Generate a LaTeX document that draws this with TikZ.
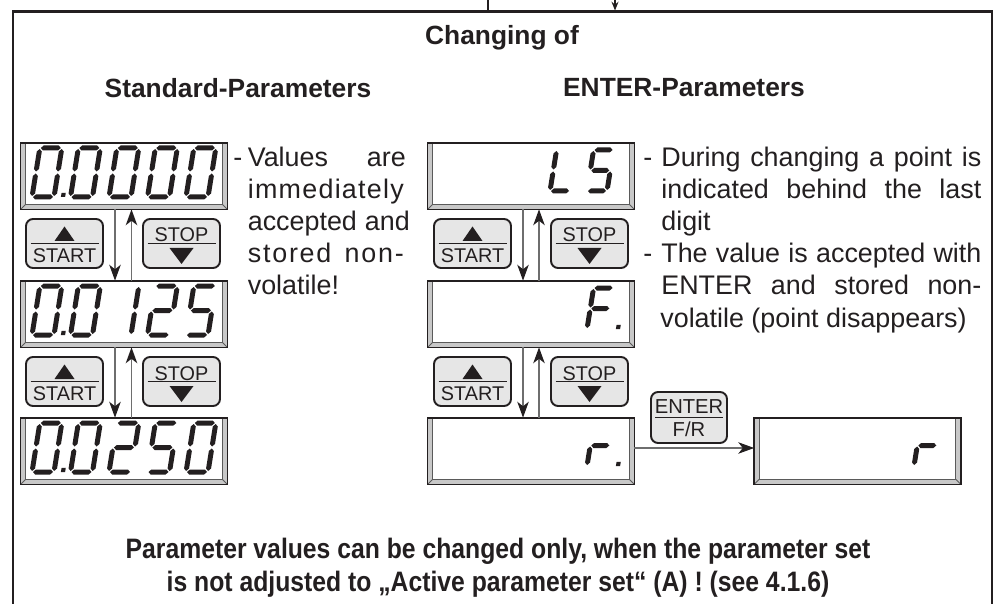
\documentclass[tikz,border=0pt]{standalone}
\usepackage{fontspec}
\setmainfont{Liberation Sans}
\usepackage{graphicx}
\usetikzlibrary{arrows.meta,calc}
\newlength\px \setlength\px{0.02cm}
\definecolor{ink}{HTML}{231F20}
\definecolor{bevel}{HTML}{C8C8C8}
\definecolor{bevline}{HTML}{5A5A5A}
\definecolor{btnfill}{HTML}{E6E6E6}
\definecolor{connc}{HTML}{6E6E6E}
\def\dgG{1.0}\def\dgT{2.5}\def\dgW{20}
\newcommand\hseg[3]{\fill[ink] ({#1+\dgG},{#3}) -- ({#1+\dgG+\dgT},{#3-\dgT}) -- ({#2-\dgG-\dgT},{#3-\dgT}) -- ({#2-\dgG},{#3}) -- ({#2-\dgG-\dgT},{#3+\dgT}) -- ({#1+\dgG+\dgT},{#3+\dgT}) -- cycle;}
\newcommand\vseg[3]{\fill[ink] ({#1},{#2+\dgG}) -- ({#1+\dgT},{#2+\dgG+\dgT}) -- ({#1+\dgT},{#3-\dgG-\dgT}) -- ({#1},{#3-\dgG}) -- ({#1-\dgT},{#3-\dgG-\dgT}) -- ({#1-\dgT},{#2+\dgG+\dgT}) -- cycle;}
\newcommand\segA{\hseg{0}{\dgW}{-\dgH}}
\newcommand\segB{\vseg{\dgW}{-\dgH}{-\dgH/2}}
\newcommand\segC{\vseg{\dgW}{-\dgH/2}{0}}
\newcommand\segD{\hseg{0}{\dgW}{0}}
\newcommand\segE{\vseg{0}{-\dgH/2}{0}}
\newcommand\segF{\vseg{0}{-\dgH}{-\dgH/2}}
\newcommand\segG{\hseg{0}{\dgW}{-\dgH/2}}
\newcommand\segP{\fill[ink] (28.9,-4.2) rectangle (33.1,0);}
\newcommand\dZero{\segA\segB\segC\segD\segE\segF}
\newcommand\dOne{\segB\segC}
\newcommand\dTwo{\segA\segB\segG\segE\segD}
\newcommand\dFive{\segA\segF\segG\segC\segD}
\newcommand\dLL{\segF\segE\segD}
\newcommand\dFF{\segA\segF\segG\segE}
\newcommand\dRR{\segE\segG}
\newcommand\dig[5]{\begin{scope}[shift={(#1,#2)},xslant=0.16]\def\dgH{#3}\def\dgW{#4}#5\end{scope}}
\newcommand\disp[3]{%
  \node[dispbox] (#1) at (#2,#3) {};
  \fill[bevel] (#1.north west) rectangle (#1.south east);
  \fill[white] ($(#1.north west)+(5,0)$) rectangle ($(#1.south east)+(-5,-5)$);
  \draw[bevline, line width=0.5pt] ($(#1.north west)+(5,0)$) -- ($(#1.south west)+(5,-5)$) -- ($(#1.south east)+(-5,-5)$) -- ($(#1.north east)+(-5,0)$);
  \draw[bevline, line width=0.5pt] (#1.south west) -- ($(#1.south west)+(5,-5)$) (#1.south east) -- ($(#1.south east)+(-5,-5)$);
  \draw[ink, line width=0.8pt] (#1.north west) rectangle (#1.south east);
  \draw[ink, line width=1.2pt] (#1.north west) -- (#1.north east);
}
\newcommand\startbtn[3]{%
  \node[btn] (#1) at (#2,#3) {};
  \draw[ink, line width=0.6pt] ($(#1.center)+(-34,0)$) -- ($(#1.center)+(34,0)$);
  \fill[ink] ($(#1.center)+(-10,-2.5)$) -- ($(#1.center)+(10,-2.5)$) -- ($(#1.center)+(0,-17)$) -- cycle;
  \node[btnlbl] (#1t) at ($(#1.center)+(0,18.5)$) {START};
}
\newcommand\stopbtn[3]{%
  \node[btn] (#1) at (#2,#3) {};
  \draw[ink, line width=0.6pt] ($(#1.center)+(-34,0)$) -- ($(#1.center)+(34,0)$);
  \fill[ink] ($(#1.center)+(-12,4.5)$) -- ($(#1.center)+(12,4.5)$) -- ($(#1.center)+(0,20.5)$) -- cycle;
  \node[btnlbl] (#1t) at ($(#1.center)+(0,-1.5)$) {STOP};
}
\newcommand\bodyfont{\fontsize{15.3}{18}\selectfont}
\begin{document}
\begin{tikzpicture}[x={(0.02cm,0)}, y={(0,-0.02cm)},
  dispbox/.style={minimum width=206\px, minimum height=66\px, inner sep=0, draw=none},
  btn/.style={draw=ink, line width=1.1pt, fill=btnfill, rounded corners=4pt, minimum width=77\px, minimum height=49\px, inner sep=0},
  btnlbl/.style={font=\fontsize{11.3}{12}\selectfont, anchor=base, inner sep=0, text=ink},
  hd/.style={font=\fontsize{15}{18}\selectfont\bfseries, anchor=base, inner sep=0, text=ink},
  body/.style={font=\bodyfont, anchor=base west, inner sep=0, text=ink},
  bot/.style={font=\fontsize{16}{18}\selectfont\bfseries, anchor=base, inner sep=0, text=ink},
  conn/.style={draw=connc, line width=0.9pt, -{Stealth[length=9pt,width=6.5pt,inset=2.5pt,color=ink]}}]
\useasboundingbox (0,0) rectangle (996,604);
% frame and incoming connectors
\draw[ink, line width=1.4pt] (13,625) -- (13,11.5) -- (992,11.5) -- (992,625);
\coordinate (top1) at (488,-3); \coordinate (top1e) at (488,11);
\draw[ink, line width=0.6pt] (top1) -- (top1e);
\coordinate (top2) at (615,-3); \coordinate (top2e) at (615,10.5);
\draw[ink, line width=0.6pt, -{Stealth[length=5pt,width=4pt]}] (top2) -- (top2e);
% headings
\node[hd] (h0) at (502,45) {Changing of};
\node[hd] (h1) at (238,98) {Standard-Parameters};
\node[hd] (h2) at (684,97) {ENTER-Parameters};
% displays
\disp{L1}{124}{176}
\disp{L2}{124}{314}
\disp{L3}{124}{451}
\disp{R1}{531}{176}
\disp{R2}{531}{314}
\disp{R3}{531}{451}
\disp{R4}{857.5}{451}
% digits left
\dig{32}{197}{49}{22}{\dZero\segP}
\dig{70.5}{197}{49}{22}{\dZero}
\dig{109}{197}{49}{22}{\dZero}
\dig{147.5}{197}{49}{22}{\dZero}
\dig{186}{197}{49}{22}{\dZero}
\dig{32}{335}{49}{22}{\dZero\segP}
\dig{70.5}{335}{49}{22}{\dZero}
\dig{109}{335}{49}{22}{\dOne}
\dig{147.5}{335}{49}{22}{\dTwo}
\dig{186}{335}{49}{22}{\dFive}
\dig{32}{472}{49}{22}{\dZero\segP}
\dig{70.5}{472}{49}{22}{\dZero}
\dig{109}{472}{49}{22}{\dTwo}
\dig{147.5}{472}{49}{22}{\dFive}
\dig{186}{472}{49}{22}{\dZero}
% digits right
\dig{550}{191}{41}{20}{\dLL}
\dig{587}{191}{41}{20}{\dFive}
\dig{587}{329}{41}{20}{\dFF\segP}
\dig{587}{466}{41}{20}{\dRR\segP}
\dig{914}{466}{41}{20}{\dRR}
% buttons
\startbtn{bL1}{64.5}{243.5}
\stopbtn{sL1}{181.5}{243.5}
\startbtn{bL2}{64.5}{381.5}
\stopbtn{sL2}{181.5}{381.5}
\startbtn{bR1}{472.5}{243.5}
\stopbtn{sR1}{589.5}{243.5}
\startbtn{bR2}{472.5}{381.5}
\stopbtn{sR2}{589.5}{381.5}
\node[btn, minimum width=76\px, minimum height=51\px] (ent) at (689,417.5) {};
\draw[ink, line width=0.6pt] ($(ent.center)+(-34,0)$) -- ($(ent.center)+(34,0)$);
\node[btnlbl, font=\fontsize{11.5}{12}\selectfont] (entt) at ($(ent.center)+(0,-4.5)$) {ENTER};
\node[btnlbl, font=\fontsize{11.5}{12}\selectfont] (entb) at ($(ent.center)+(0,19)$) {F/R};
% connectors
\draw[conn] ([xshift=-0.18cm]L1.south) -- ([xshift=-0.18cm]L2.north);
\draw[conn] ([xshift=0.15cm]L2.north) -- ([xshift=0.15cm]L1.south);
\draw[conn] ([xshift=-0.18cm]L2.south) -- ([xshift=-0.18cm]L3.north);
\draw[conn] ([xshift=0.15cm]L3.north) -- ([xshift=0.15cm]L2.south);
\draw[conn] ([xshift=-0.16cm]R1.south) -- ([xshift=-0.16cm]R2.north);
\draw[conn] ([xshift=0.16cm]R2.north) -- ([xshift=0.16cm]R1.south);
\draw[conn] ([xshift=-0.16cm]R2.south) -- ([xshift=-0.16cm]R3.north);
\draw[conn] ([xshift=0.16cm]R3.north) -- ([xshift=0.16cm]R2.south);
\draw[conn] ([yshift=0.06cm]R3.east) -- ([yshift=0.06cm]R4.west);
% left column text
\node[body] (lh) at (233,167) {-};
\node[body] (l1) at (247.5,167) {\makebox[158\px][s]{Values are}};
\node[body] (l2) at (247.5,199) {\makebox[156\px][s]{i\hfill m\hfill m\hfill e\hfill d\hfill i\hfill a\hfill t\hfill e\hfill l\hfill y}};
\node[body] (l3) at (247.5,231) {\makebox[162\px][s]{accepted and}};
\node[body] (l4) at (247.5,263) {\makebox[156\px][s]{s\hfill t\hfill o\hfill r\hfill e\hfill d\hskip 0.3em plus 3fill n\hfill o\hfill n\hfill -}};
\node[body] (l5) at (247.5,295) {volatile!};
% right column text
\node[body] (rh1) at (643,167) {-};
\node[body] (r1) at (661,167) {\makebox[320\px][s]{During changing a point is}};
\node[body] (r2) at (661,199) {\makebox[320\px][s]{indicated behind the last}};
\node[body] (r3) at (661,231) {digit};
\node[body] (rh2) at (643,263) {-};
\node[body] (r4) at (661,263) {\makebox[320\px][s]{The value is accepted with}};
\node[body] (r5) at (661,295) {\makebox[320\px][s]{ENTER and stored non-}};
\node[body] (r6) at (660,327) {volatile (point disappears)};
% bottom note
\node[bot] (n1) at (498,558) {\scalebox{0.88}[1]{Parameter values can be changed only, when the parameter set}};
\node[bot] (n2) at (498,591) {\scalebox{0.88}[1]{is not adjusted to „Active parameter set“ (A) ! (see 4.1.6)}};
\end{tikzpicture}
\end{document}
